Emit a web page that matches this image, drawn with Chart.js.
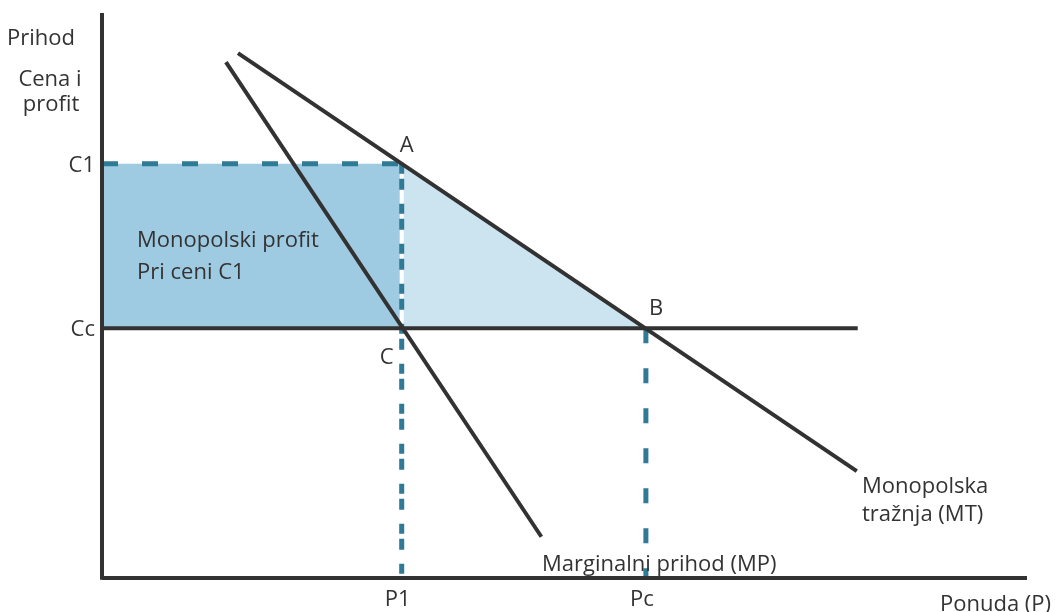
<!DOCTYPE html>
<html>
<head>
<meta charset="utf-8">
<script src="https://cdn.jsdelivr.net/npm/chart.js@4.4.1/dist/chart.umd.min.js"></script>
<style>
  html, body { margin: 0; padding: 0; background: #ffffff; }
  #wrap { width: 1057px; height: 612px; position: relative; }
</style>
</head>
<body>
<div id="wrap"><canvas id="c" width="1057" height="612"></canvas></div>
<script>
// ---- data (in chart units: quantity 0..100, price 0..100) ----
const xTickLabels = ['P1', 'Pc'];
const xTickValues = [32.4, 58.8];
const yTickLabels = ['C1', 'Cc'];
const yTickValues = [73.3, 44.2];
const demandX = [14.7, 81.6];
const demandY = [92.9, 18.9];
const mrX = [13.4, 47.5];
const mrY = [91.3, 7.3];
const costLineEndX = [81.7];
const axisMax = [100, 100];

const P1 = xTickValues[0], Pc = xTickValues[1];
const C1 = yTickValues[0], Cc = yTickValues[1];

const pts = (xs, ys) => xs.map((x, i) => ({ x: x, y: ys[i] }));

const dark = 'rgb(50,50,50)';
const teal = '#2f7a95';

const datasets = [
  // monopoly profit rectangle
  { data: [{x: 0, y: C1}, {x: P1, y: C1}], fill: { value: Cc },
    backgroundColor: '#9fcbe2', borderWidth: 0, pointRadius: 0, order: 20 },
  // deadweight triangle
  { data: [{x: P1, y: C1}, {x: Pc, y: Cc}], fill: { value: Cc },
    backgroundColor: '#cce4f0', borderWidth: 0, pointRadius: 0, order: 19 },
  // white strip behind P1 dashes
  { data: [{x: P1, y: C1}, {x: P1, y: Cc}], borderColor: '#ffffff', borderWidth: 4,
    pointRadius: 0, order: 15 },
  // dashed C1
  { data: [{x: 0, y: C1}, {x: P1, y: C1}], borderColor: teal, borderWidth: 5,
    borderDash: [16, 24], pointRadius: 0, order: 10 },
  // dashed P1 vertical
  { data: [{x: P1, y: C1}, {x: P1, y: 0}], borderColor: teal, borderWidth: 5,
    borderDash: [10, 5, 11, 14], pointRadius: 0, order: 10 },
  // dashed Pc vertical
  { data: [{x: Pc, y: Cc}, {x: Pc, y: 0}], borderColor: teal, borderWidth: 5,
    borderDash: [15, 25], pointRadius: 0, order: 10 },
  // Cc horizontal
  { data: [{x: 0, y: Cc}, {x: costLineEndX[0], y: Cc}], borderColor: dark, borderWidth: 4,
    pointRadius: 0, order: 5 },
  // demand MT
  { data: pts(demandX, demandY), borderColor: dark, borderWidth: 4, pointRadius: 0, order: 4 },
  // marginal revenue MP
  { data: pts(mrX, mrY), borderColor: dark, borderWidth: 4, pointRadius: 0, order: 4 },
  // axes
  { data: [{x: 0, y: 0}, {x: axisMax[0], y: 0}], borderColor: dark, borderWidth: 4, pointRadius: 0, order: 1 },
  { data: [{x: 0, y: -0.3}, {x: 0, y: axisMax[1]}], borderColor: dark, borderWidth: 4, pointRadius: 0, order: 1 }
];
datasets.forEach(d => { d.showLine = true; d.clip = false; d.tension = 0; d.borderCapStyle = 'butt'; });

const FONT = '"Open Sans", "Noto Sans", sans-serif';
const textColor = '#333333';

const labelsPlugin = {
  id: 'econLabels',
  afterDatasetsDraw(chart) {
    const ctx = chart.ctx;
    const xs = chart.scales.x, ys = chart.scales.y;
    ctx.save();
    ctx.fillStyle = textColor;
    ctx.font = '22px ' + FONT;
    ctx.textBaseline = 'alphabetic';
    // tick labels
    ctx.textAlign = 'center';
    xTickLabels.forEach((t, i) => ctx.fillText(t, xs.getPixelForValue(xTickValues[i]) - 4, 606));
    ctx.textAlign = 'right';
    yTickLabels.forEach((t, i) => ctx.fillText(t, xs.getPixelForValue(0) - 7, ys.getPixelForValue(yTickValues[i]) + 8));
    // point labels
    ctx.textAlign = 'left';
    ctx.fillText('A', xs.getPixelForValue(P1) - 2, ys.getPixelForValue(C1) - 12);
    ctx.fillText('B', xs.getPixelForValue(Pc) + 3, ys.getPixelForValue(Cc) - 13);
    ctx.fillText('C', xs.getPixelForValue(P1) - 22, ys.getPixelForValue(Cc) + 36);
    // axis titles
    ctx.fillText('Prihod', 7, 45);
    ctx.textAlign = 'center';
    ctx.fillText('Cena i', 50, 86);
    ctx.fillText('profit', 51, 111);
    ctx.textAlign = 'left';
    ctx.fillText('Ponuda (P)', 940, 611);
    // area / curve labels
    ctx.fillText('Monopolski profit', 137, 247);
    ctx.fillText('Pri ceni C1', 137, 279);
    ctx.fillText('Monopolska', 862, 493);
    ctx.fillText('tražnja (MT)', 862, 521);
    ctx.fillText('Marginalni prihod (MP)', 542, 571);
    ctx.restore();
  }
};

new Chart(document.getElementById('c'), {
  type: 'scatter',
  data: { datasets: datasets },
  options: {
    responsive: false,
    animation: false,
    devicePixelRatio: 1,
    layout: { padding: { left: 102, right: 30, top: 13, bottom: 34 } },
    plugins: { legend: { display: false }, tooltip: { enabled: false }, title: { display: false } },
    scales: {
      x: { type: 'linear', min: 0, max: axisMax[0], display: false },
      y: { type: 'linear', min: 0, max: axisMax[1], display: false }
    }
  },
  plugins: [labelsPlugin]
});
</script>
</body>
</html>
